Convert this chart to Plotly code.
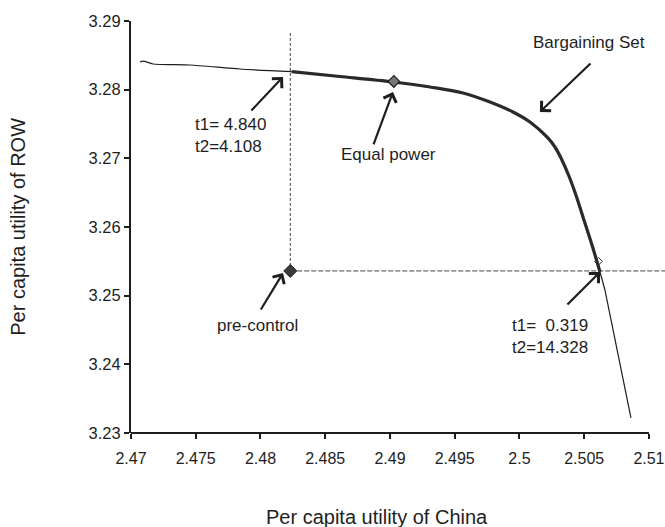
import plotly.graph_objects as go

# ---------------- data ----------------
x_ticks = [2.47, 2.475, 2.48, 2.485, 2.49, 2.495, 2.5, 2.505, 2.51]
x_tick_labels = ["2.47", "2.475", "2.48", "2.485", "2.49", "2.495", "2.5", "2.505", "2.51"]
y_ticks = [3.23, 3.24, 3.25, 3.26, 3.27, 3.28, 3.29]
y_tick_labels = ["3.23", "3.24", "3.25", "3.26", "3.27", "3.28", "3.29"]

# frontier left of the pre-control vertical (thin)
china_left = [2.47069, 2.47095, 2.4717, 2.47456, 2.47842, 2.48241]
row_left = [3.28403, 3.28415, 3.28374, 3.28359, 3.28301, 3.28262]

# bargaining set (thick)
china_set = [2.48241, 2.48614, 2.49023, 2.49309, 2.49564, 2.49772, 2.49950,
             2.50081, 2.50212, 2.50274, 2.50328, 2.50382, 2.50436, 2.50498,
             2.50560, 2.50622]
row_set = [3.28262, 3.28192, 3.28112, 3.28039, 3.27952, 3.27820, 3.27675,
           3.27529, 3.27311, 3.27165, 3.26976, 3.26743, 3.26466, 3.26102,
           3.25738, 3.25345]

# frontier below the pre-control horizontal (thin)
china_right = [2.50622, 2.50660, 2.50861]
row_right = [3.25345, 3.25083, 3.23219]

pre_control = (2.4823, 3.2536)
equal_power = (2.4903, 3.2812)
corner_point = (2.5061, 3.2550)
vline_top = 3.2884

X_MIN, X_MAX = 2.47, 2.51124
Y_MIN, Y_MAX = 3.23, 3.29

INK = "#1e1e1e"
FONT = "Liberation Sans, Arial, Helvetica, sans-serif"

fig = go.Figure()

# dashed reference lines
fig.add_trace(go.Scatter(x=[pre_control[0], pre_control[0]], y=[pre_control[1], vline_top],
                         mode="lines", line=dict(color="#444", width=1, dash="3px,2px"),
                         hoverinfo="skip", showlegend=False))
fig.add_trace(go.Scatter(x=[pre_control[0], X_MAX], y=[pre_control[1], pre_control[1]],
                         mode="lines", line=dict(color="#444", width=1, dash="5px,2px"),
                         hoverinfo="skip", showlegend=False))

# frontier
fig.add_trace(go.Scatter(x=china_left, y=row_left, mode="lines",
                         line=dict(color=INK, width=1.2, shape="spline", smoothing=0.6),
                         showlegend=False))
fig.add_trace(go.Scatter(x=china_set, y=row_set, mode="lines",
                         line=dict(color="#2a2a2a", width=3.2, shape="spline", smoothing=1.0),
                         showlegend=False))
fig.add_trace(go.Scatter(x=china_right, y=row_right, mode="lines",
                         line=dict(color=INK, width=1.2),
                         showlegend=False))

# markers
fig.add_trace(go.Scatter(x=[pre_control[0]], y=[pre_control[1]], mode="markers",
                         marker=dict(symbol="diamond", size=10, color="#3a3a3a",
                                     line=dict(color=INK, width=1)),
                         showlegend=False))
fig.add_trace(go.Scatter(x=[equal_power[0]], y=[equal_power[1]], mode="markers",
                         marker=dict(symbol="diamond", size=9, color="#777",
                                     line=dict(color=INK, width=1.2)),
                         showlegend=False))
fig.add_trace(go.Scatter(x=[corner_point[0]], y=[corner_point[1]], mode="markers",
                         marker=dict(symbol="diamond-open", size=6, color="#333",
                                     line=dict(width=1)),
                         showlegend=False))

# arrows: (tail_x, tail_y, tip_x, tip_y)
arrows = [
    (2.47919, 3.27675, 2.48174, 3.28185),
    (2.48869, 3.27180, 2.49023, 3.27966),
    (2.50560, 3.28403, 2.50158, 3.27675),
    (2.47996, 3.24777, 2.48174, 3.25330),
    (2.50359, 3.24850, 2.50622, 3.25345),
]
annotations = []
for tx, ty, hx, hy in arrows:
    annotations.append(dict(x=hx, y=hy, ax=tx, ay=ty, xref="x", yref="y",
                            axref="x", ayref="y", text="", showarrow=True,
                            arrowhead=4, arrowsize=1.2, arrowwidth=2.2,
                            arrowcolor=INK, standoff=0, startstandoff=0))

lab_font = dict(family=FONT, size=17, color=INK)
annotations += [
    dict(x=2.47478, y=3.2733, xref="x", yref="y", text="t1= 4.840<br>t2=4.108",
         showarrow=False, xanchor="left", yanchor="middle", align="left", font=lab_font),
    dict(x=equal_power[0] - 0.00045, y=3.2706, xref="x", yref="y", text="Equal power",
         showarrow=False, xanchor="center", yanchor="middle", font=lab_font),
    dict(x=2.5054, y=3.2868, xref="x", yref="y", text="Bargaining Set",
         showarrow=False, xanchor="center", yanchor="middle", font=lab_font),
    dict(x=2.4798, y=3.2457, xref="x", yref="y", text="pre-control",
         showarrow=False, xanchor="center", yanchor="middle", font=lab_font),
    dict(x=2.49927, y=3.2441, xref="x", yref="y", text="t1=  0.319<br>t2=14.328",
         showarrow=False, xanchor="left", yanchor="middle", align="left", font=lab_font),
    # axis titles
    dict(x=-0.212, y=0.5, xref="paper", yref="paper", text="Per capita utility of ROW",
         textangle=-90, showarrow=False, xanchor="center", yanchor="middle",
         font=dict(family=FONT, size=20, color=INK)),
    dict(x=0.4607, y=-0.204, xref="paper", yref="paper", text="Per capita utility of China",
         showarrow=False, xanchor="center", yanchor="middle",
         font=dict(family=FONT, size=20, color=INK)),
]

fig.update_layout(
    width=665, height=527,
    margin=dict(l=131, r=0, t=21, b=94),
    paper_bgcolor="white", plot_bgcolor="white",
    showlegend=False,
    annotations=annotations,
    shapes=[dict(type="line", xref="paper", yref="paper",
                 x0=0, x1=(2.51 - X_MIN) / (X_MAX - X_MIN), y0=0, y1=0,
                 line=dict(color=INK, width=2))],
    font=dict(family=FONT, size=16, color=INK),
)
fig.update_xaxes(range=[X_MIN, X_MAX], tickvals=x_ticks, ticktext=x_tick_labels,
                 showgrid=False, zeroline=False, showline=False,
                 ticks="outside", ticklen=5, tickwidth=1.5, tickcolor=INK,
                 ticklabelstandoff=6,
                 tickfont=dict(family=FONT, size=16, color=INK))
fig.update_yaxes(range=[Y_MIN, Y_MAX], tickvals=y_ticks, ticktext=y_tick_labels,
                 showgrid=False, zeroline=False, showline=True, linecolor=INK, linewidth=2,
                 ticks="outside", ticklen=5, tickwidth=1.5, tickcolor=INK,
                 tickfont=dict(family=FONT, size=16.5, color=INK))

fig.write_html("out.html")
